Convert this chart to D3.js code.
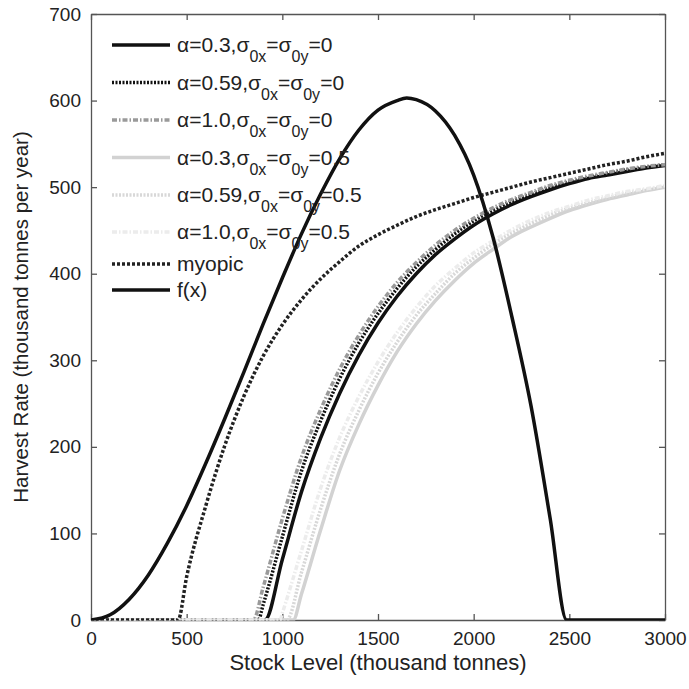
<!DOCTYPE html>
<html>
<head>
<meta charset="utf-8">
<script src="https://cdn.jsdelivr.net/npm/d3@7"></script>
<style>
  body { margin: 0; background: #fff; }
  svg { font-family: "Liberation Sans", Arial, sans-serif; }
</style>
</head>
<body>
<script>
// stock levels (thousand tonnes) shared by the policy series
const stock = d3.range(0, 3001, 100);
// f(x) is read on a slightly finer grid round its peak
const growthStock = [0,100,200,300,400,500,600,700,800,900,1000,1100,1200,1300,1400,1500,1600,1650,1700,1800,1900,2000,2100,2200,2300,2400,2500,2600,2700,2800,2900,3000];

// harvest rates (thousand tonnes per year), one value per stock level
const a03s0  = [0,0,0,0,0,0,0,0,0,0, 70,148,210,262,306,343,374,400,422,440,456,469,480,489,497,504,510,514,518,522,525];
const a059s0 = [0,0,0,0,0,0,0,0,0,18, 96,172,230,279,320,354,383,408,428,446,461,473,484,492,500,506,511,516,520,523,526];
const a10s0  = [0,0,0,0,0,0,0,0,0,38, 117,188,243,290,329,362,390,413,433,450,464,476,486,494,502,508,513,517,521,524,526];
const a03s5  = [0,0,0,0,0,0,0,0,0,0, 0,30,104,173,226,271,310,342,369,392,412,428,443,454,464,473,480,486,491,496,500];
const a059s5 = [0,0,0,0,0,0,0,0,0,0, 0,55,128,192,242,285,321,352,377,400,418,434,447,458,468,476,482,488,493,497,501];
const a10s5  = [0,0,0,0,0,0,0,0,0,0, 8,80,152,211,258,298,332,361,386,406,424,438,451,462,471,478,485,490,495,498,502];
const myopic = [0,0,0,0,0, 50,132,202,259,305,341,370,394,414,432,445,456,466,474,481,488,494,500,506,511,516,521,526,530,535,539];
const growth = [0,6,24,52,89,132,181,233,287,342,395,446,492,533,566,589,600,603,601,588,560,514,443,350,247,117,0,0,0,0,0,0];

// stock level where each policy switches between zero and positive harvest
const cutoffs = [909, 874, 848, 1057, 1023, 988, 455, 2486];

const alphas = ["0.3", "0.59", "1.0", "0.3", "0.59", "1.0"];
const sigmas = ["0", "0", "0", "0.5", "0.5", "0.5"];
const otherNames = ["myopic", "f(x)"];

const xTicks = [0, 500, 1000, 1500, 2000, 2500, 3000];
const yTicks = [0, 100, 200, 300, 400, 500, 600, 700];

const W = 689, H = 689;
const margin = {top: 14, right: 24, bottom: 69, left: 91};
const width = W - margin.left - margin.right;
const height = H - margin.top - margin.bottom;

const svg = d3.select("body").append("svg")
  .attr("width", W).attr("height", H);

const g = svg.append("g")
  .attr("transform", `translate(${margin.left},${margin.top})`);

const x = d3.scaleLinear().domain([0, 3000]).range([0, width]);
const y = d3.scaleLinear().domain([0, 700]).range([height, 0]);

// line styles, in plot order
const styles = [
  {color: "#111", dash: null},
  {color: "#111", dash: "2,1.5"},
  {color: "#9a9a9a", dash: "5,2,1.5,2"},
  {color: "#d2d2d2", dash: null},
  {color: "#d8d8d8", dash: "2,1.5"},
  {color: "#ececec", dash: "5,2,1.5,2"},
  {color: "#222", dash: "3,2"},
  {color: "#111", dash: null}
];

const seriesValues = [a03s0, a059s0, a10s0, a03s5, a059s5, a10s5, myopic, growth];

const series = seriesValues.map((vals, i) => {
  const xs = vals === growth ? growthStock : stock;
  const pts = xs.map((s, j) => [s, vals[j]]);
  pts.push([cutoffs[i], 0]);
  pts.sort((a, b) => a[0] - b[0]);
  return {pts, style: styles[i]};
});

// axes box
const fontTick = 19;
const fmt = d3.format("d");
const gx = g.append("g").attr("transform", `translate(0,${height})`)
  .call(d3.axisBottom(x).tickValues(xTicks).tickFormat(fmt).tickSizeInner(-6).tickSizeOuter(0).tickPadding(12));
const gxTop = g.append("g")
  .call(d3.axisTop(x).tickValues(xTicks).tickSizeInner(-6).tickSizeOuter(0).tickFormat(""));
const gy = g.append("g")
  .call(d3.axisLeft(y).tickValues(yTicks).tickFormat(fmt).tickSizeInner(-6).tickSizeOuter(0).tickPadding(10));
const gyRight = g.append("g").attr("transform", `translate(${width},0)`)
  .call(d3.axisRight(y).tickValues(yTicks).tickSizeInner(-6).tickSizeOuter(0).tickFormat(""));

[gx, gxTop, gy, gyRight].forEach(a => {
  a.select(".domain").attr("stroke", "#555").attr("stroke-width", 1.3);
  a.selectAll(".tick line").attr("stroke", "#555").attr("stroke-width", 1.3);
  a.selectAll(".tick text").attr("font-size", fontTick).attr("fill", "#222")
    .attr("font-family", "Liberation Sans, Arial, sans-serif");
});

// curves are clipped to the axes box, like the original
svg.append("clipPath").attr("id", "plotClip")
  .append("rect").attr("x", 0).attr("y", 0)
  .attr("width", width).attr("height", height + 0.6);

const line = d3.line()
  .x(d => x(d[0]))
  .y(d => y(d[1]))
  .curve(d3.curveMonotoneX);

g.append("g").attr("clip-path", "url(#plotClip)")
  .selectAll("path.curve").data(series).join("path")
  .attr("class", "curve")
  .attr("d", d => line(d.pts))
  .attr("fill", "none")
  .attr("stroke", d => d.style.color)
  .attr("stroke-width", 3.5)
  .attr("stroke-dasharray", d => d.style.dash);

// axis titles
svg.append("text")
  .attr("x", margin.left + width / 2).attr("y", 670)
  .attr("text-anchor", "middle").attr("font-size", 22).attr("fill", "#222")
  .text("Stock Level (thousand tonnes)");

svg.append("text")
  .attr("transform", `translate(28,${margin.top + height / 2}) rotate(-90)`)
  .attr("text-anchor", "middle").attr("font-size", 20.5).attr("fill", "#222")
  .text("Harvest Rate (thousand tonnes per year)");

// legend
const rowY = [45, 82.5, 120, 157.5, 195, 232, 264, 290];
const legend = svg.append("g");

rowY.forEach((ry, i) => {
  legend.append("line")
    .attr("x1", 112).attr("x2", 170).attr("y1", ry).attr("y2", ry)
    .attr("stroke", styles[i].color)
    .attr("stroke-width", 3.5)
    .attr("stroke-dasharray", styles[i].dash);

  const t = legend.append("text")
    .attr("x", 177).attr("y", ry + 7)
    .attr("font-size", 21).attr("fill", "#222");

  if (i < alphas.length) {
    t.append("tspan").text(`α=${alphas[i]},σ`);
    t.append("tspan").attr("dy", 10).attr("font-size", 16).text("0x");
    t.append("tspan").attr("dy", -10).text("=σ");
    t.append("tspan").attr("dy", 10).attr("font-size", 16).text("0y");
    t.append("tspan").attr("dy", -10).text(`=${sigmas[i]}`);
  } else {
    t.text(otherNames[i - alphas.length]);
  }
});
</script>
</body>
</html>
